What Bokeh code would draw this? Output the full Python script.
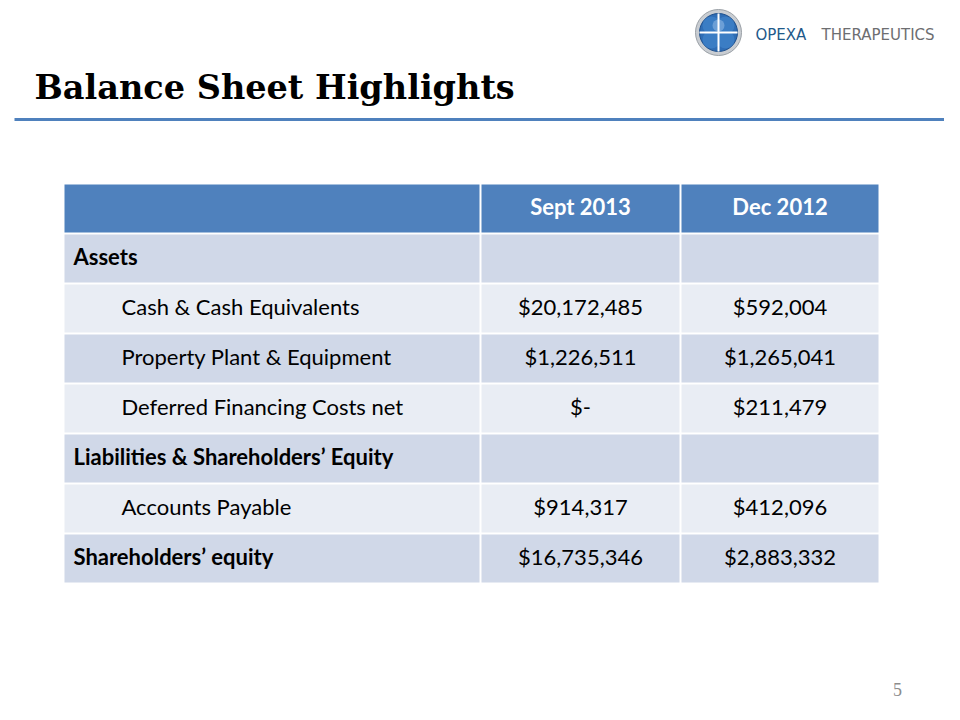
from bokeh.plotting import figure
from bokeh.models import Range1d
from bokeh.core.properties import value
from bokeh.embed import file_html
from bokeh.resources import INLINE

# ---- data ----
col_headers = ["", "Sept 2013", "Dec 2012"]
row_labels = ["Assets", "Cash & Cash Equivalents", "Property Plant & Equipment",
              "Deferred Financing Costs net", "Liabilities & Shareholders\u2019 Equity",
              "Accounts Payable", "Shareholders\u2019 equity"]
row_is_section = [True, False, False, False, True, False, True]
sept_2013 = ["", "$20,172,485", "$1,226,511", "$-", "", "$914,317", "$16,735,346"]
dec_2012 = ["", "$592,004", "$1,265,041", "$211,479", "", "$412,096", "$2,883,332"]

title = "Balance Sheet Highlights"
page_number = "5"

# ---- layout ----
W, H = 944, 704
p = figure(width=W, height=H, output_backend="svg", toolbar_location=None,
           x_range=Range1d(1, 945), y_range=Range1d(705, 1), min_border=0)
p.axis.visible = False
p.grid.visible = False
p.outline_line_color = None
p.background_fill_color = "white"
p.border_fill_color = "white"

HEADER = "#4F81BD"
DARK = "#D0D8E8"
LIGHT = "#E9EDF4"
FONT = "Lato"
FS = "22px"

col_edges = [64, 481, 681, 880]
top = 184
rh = 50
g = 1

# cells
l, r, t, b, c = [], [], [], [], []
nrows = len(row_labels) + 1
for i in range(nrows):
    y0 = top + i * rh
    color = HEADER if i == 0 else (DARK if (i % 2 == 1) else LIGHT)
    for j in range(3):
        l.append(col_edges[j] + g); r.append(col_edges[j + 1] - g)
        t.append(y0 + g); b.append(y0 + rh - g); c.append(color)
p.quad(left=l, right=r, top=t, bottom=b, fill_color=c, line_color=None)

# header text
hx = [(col_edges[1] + col_edges[2]) / 2, (col_edges[2] + col_edges[3]) / 2]
p.text(x=hx, y=[top + rh / 2 - 2] * 2, text=col_headers[1:], text_color="white",
       text_font=value(FONT), text_font_size=FS, text_font_style="bold",
       text_align="center", text_baseline="middle")

# row text
for i, lab in enumerate(row_labels):
    yc = top + (i + 1) * rh + rh / 2 - 2
    sec = row_is_section[i]
    p.text(x=[74 if sec else 122], y=[yc], text=[lab], text_color="black",
           text_font=value(FONT), text_font_size=FS,
           text_font_style="bold" if sec else "normal",
           text_align="left", text_baseline="middle")
    p.text(x=hx, y=[yc, yc], text=[sept_2013[i], dec_2012[i]], text_color="black",
           text_font=value(FONT), text_font_size=FS,
           text_align="center", text_baseline="middle")

# title
p.text(x=[35], y=[88], text=[title], text_color="black",
       text_font=value("DejaVu Serif"), text_font_size="33.5px",
       text_font_style="bold", text_align="left", text_baseline="alphabetic")
p.line(x=[15, 945], y=[120, 120], line_color=HEADER, line_width=3)

# logo
p.circle(x=[719], y=[33], radius=23, fill_color="#C9CDD2", line_color="#9AA0A6", line_width=1)
p.circle(x=[719], y=[33], radius=19, fill_color="#2F6DB5", line_color="#1E4F8C", line_width=1)
for dx, dy in [(-7, -7), (7, -7), (-7, 7), (7, 7)]:
    p.circle(x=[719 + dx], y=[33 + dy], radius=9, fill_color="#3B7DC4", line_color=None)
p.circle(x=[719], y=[26], radius=6, fill_color="#8EB6E3", line_color=None, fill_alpha=0.6)
p.line(x=[719, 719], y=[14, 52], line_color="white", line_width=2)
p.line(x=[700, 738], y=[33, 33], line_color="white", line_width=2)
p.text(x=[756], y=[35], text=["OPEXA"], text_color="#1F5A8A",
       text_font=value("DejaVu Sans"), text_font_size="15px",
       text_align="left", text_baseline="middle")
p.text(x=[822], y=[35], text=["THERAPEUTICS"], text_color="#6D6E71",
       text_font=value("DejaVu Sans"), text_font_size="15px",
       text_align="left", text_baseline="middle")

# page number
p.text(x=[898], y=[690], text=[page_number], text_color="#8C8C8C",
       text_font=value("Liberation Serif"), text_font_size="18px",
       text_align="center", text_baseline="middle")

open("out.html", "w").write(file_html(p, INLINE))
